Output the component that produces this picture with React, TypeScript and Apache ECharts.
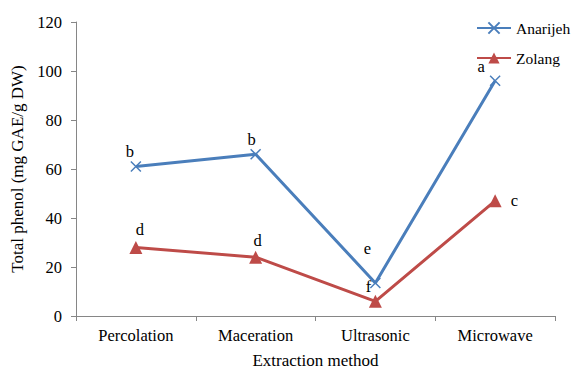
import React, { useEffect, useRef } from "react";
import * as echarts from "echarts";

const categories = ["Percolation", "Maceration", "Ultrasonic", "Microwave"];
const anarijeh = [61, 66, 13.5, 96];
const zolang = [28, 24, 6, 47];
const anarijehLetters = ["b", "b", "e", "a"];
const zolangLetters = ["d", "d", "f", "c"];
const yTicks = [0, 20, 40, 60, 80, 100, 120];

const anarijehLabelOffsets: [number, number][] = [[-6, 4], [-4, 4], [-8, -15], [-14, 5]];
const zolangLabelOffsets: [number, number][] = [[4, 2], [2, 3], [-7, 5], [4, 0]];
const zolangPositions = ["top", "top", "top", "right"];

const serif = "'Liberation Serif', 'Times New Roman', 'DejaVu Serif', serif";
const crossPath = "path://M0,0L10,10M10,0L0,10";

export default function App() {
  const ref = useRef<HTMLDivElement>(null);
  useEffect(() => {
    if (!ref.current) return;
    const chart = echarts.init(ref.current, null, { renderer: "svg" });
    const mk = (vals: number[], letters: string[], offs: [number, number][], pos?: string[]) =>
      vals.map((v, i) => ({
        value: v,
        label: {
          show: true,
          formatter: letters[i],
          position: pos ? pos[i] : "top",
          offset: offs[i],
          fontFamily: serif,
          fontSize: 16.5,
          color: "#000",
        },
      }));
    chart.setOption({
      animation: false,
      textStyle: { fontFamily: serif },
      grid: { left: 76, right: 17, top: 22, bottom: 53 },
      legend: {
        left: 471,
        top: 15,
        orient: "vertical",
        itemWidth: 34,
        itemHeight: 14,
        itemGap: 14,
        textStyle: { fontFamily: serif, fontSize: 15.5, color: "#000" },
        data: [{ name: "Anarijeh" }, { name: "Zolang" }],
      },
      xAxis: {
        type: "category",
        data: categories,
        boundaryGap: true,
        name: "Extraction method",
        nameLocation: "middle",
        nameGap: 36,
        nameTextStyle: { fontFamily: serif, fontSize: 17, color: "#000" },
        axisLine: { lineStyle: { color: "#868686", width: 1 } },
        axisTick: { show: true, length: 5, lineStyle: { color: "#868686" } },
        axisLabel: { fontFamily: serif, fontSize: 16.5, color: "#000", margin: 11 },
      },
      yAxis: {
        type: "value",
        min: 0,
        max: 120,
        interval: 20,
        name: "Total phenol (mg GAE/g DW)",
        nameLocation: "middle",
        nameGap: 46,
        nameTextStyle: { fontFamily: serif, fontSize: 17, color: "#000" },
        axisLine: { show: true, lineStyle: { color: "#868686", width: 1 } },
        axisTick: { show: true, length: 5, lineStyle: { color: "#868686" } },
        splitLine: { show: false },
        axisLabel: {
          fontFamily: serif,
          fontSize: 16.5,
          color: "#000",
          margin: 14,
          formatter: (v: number) => (yTicks.includes(v) ? String(v) : ""),
        },
      },
      series: [
        {
          name: "Anarijeh",
          type: "line",
          data: mk(anarijeh, anarijehLetters, anarijehLabelOffsets),
          symbol: crossPath,
          symbolSize: 10,
          lineStyle: { color: "#4A7EBB", width: 3 },
          itemStyle: { color: "#4A7EBB", borderColor: "#4A7EBB", borderWidth: 1.5 },
          z: 3,
        },
        {
          name: "Zolang",
          type: "line",
          data: mk(zolang, zolangLetters, zolangLabelOffsets, zolangPositions),
          symbol: "triangle",
          symbolSize: 13,
          lineStyle: { color: "#BE4B48", width: 3 },
          itemStyle: { color: "#BE4B48" },
          z: 2,
        },
      ],
    });
    return () => chart.dispose();
  }, []);
  return (
    <div
      ref={ref}
      style={{ position: "fixed", left: 0, top: 0, width: 572, height: 374, background: "#fff" }}
    />
  );
}
